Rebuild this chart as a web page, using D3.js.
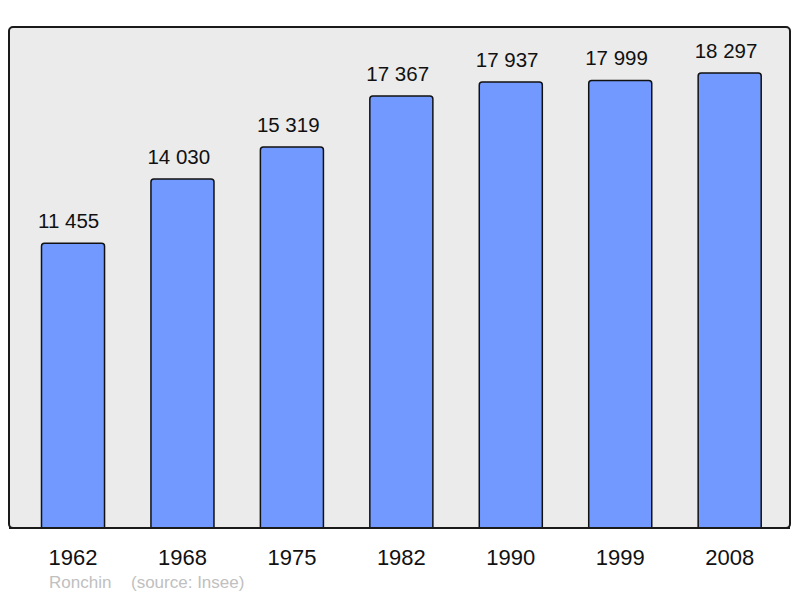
<!DOCTYPE html>
<html><head><meta charset="utf-8">
<script src="https://cdn.jsdelivr.net/npm/d3@7"></script>
<style>body{margin:0;background:#fff}svg{display:block}text{font-family:"Liberation Sans",Arial,sans-serif}</style>
</head><body>
<svg id="c" width="800" height="598"></svg>
<script>
const years = ["1962","1968","1975","1982","1990","1999","2008"];
const population = [11455,14030,15319,17367,17937,17999,18297];
const labels = ["11 455","14 030","15 319","17 367","17 937","17 999","18 297"];
const townName = "Ronchin";
const sourceText = "(source: Insee)";

const svg = d3.select("#c");
const plot = {left: 9, top: 27, right: 790, bottom: 528};

svg.append("rect")
  .attr("x", plot.left).attr("y", plot.top)
  .attr("width", plot.right - plot.left).attr("height", plot.bottom - plot.top)
  .attr("rx", 4).attr("ry", 4)
  .attr("fill", "#ebebeb").attr("stroke", "#1a1a1a").attr("stroke-width", 2);

const x = d3.scaleBand().domain(years).range([18.3, 784.4])
  .paddingInner(0.424).paddingOuter(0.212);
const y = d3.scaleLinear().domain([0, 20146]).range([plot.bottom, plot.top]);

const g = svg.append("g");
g.selectAll("path.bar").data(years).join("path")
  .attr("class","bar")
  .attr("d", (d,i) => {
    const x0 = x(d), w = x.bandwidth(), y0 = y(population[i]), yb = plot.bottom, r = 3;
    return `M${x0},${yb} L${x0},${y0+r} Q${x0},${y0} ${x0+r},${y0} L${x0+w-r},${y0} Q${x0+w},${y0} ${x0+w},${y0+r} L${x0+w},${yb}`;
  })
  .attr("fill", "#7199ff").attr("stroke", "#111").attr("stroke-width", 1.5);

g.selectAll("text.val").data(years).join("text")
  .attr("class","val")
  .attr("x", d => x(d) - 3.5)
  .attr("y", (d,i) => y(population[i]) - 15)
  .attr("text-anchor","start").attr("font-size", 20.5).attr("fill","#111")
  .text((d,i) => labels[i]);

svg.append("line").attr("x1", plot.left).attr("x2", plot.right)
  .attr("y1", plot.bottom).attr("y2", plot.bottom)
  .attr("stroke","#1a1a1a").attr("stroke-width",2);

const xAxis = d3.axisBottom(x).tickSize(0).tickPadding(0);
const ax = svg.append("g").attr("transform", `translate(0,${plot.bottom})`).call(xAxis);
ax.select(".domain").remove();
ax.selectAll("text").attr("font-size", 22).attr("fill","#111")
  .attr("dy", null).attr("y", 36.5).attr("font-family", '"Liberation Sans",Arial,sans-serif');

svg.append("text").attr("x", 49).attr("y", 588).attr("font-size", 17).attr("fill","#c0c0c0").text(townName);
svg.append("text").attr("x", 131).attr("y", 588).attr("font-size", 17).attr("fill","#c0c0c0").text(sourceText);
</script>
</body></html>
